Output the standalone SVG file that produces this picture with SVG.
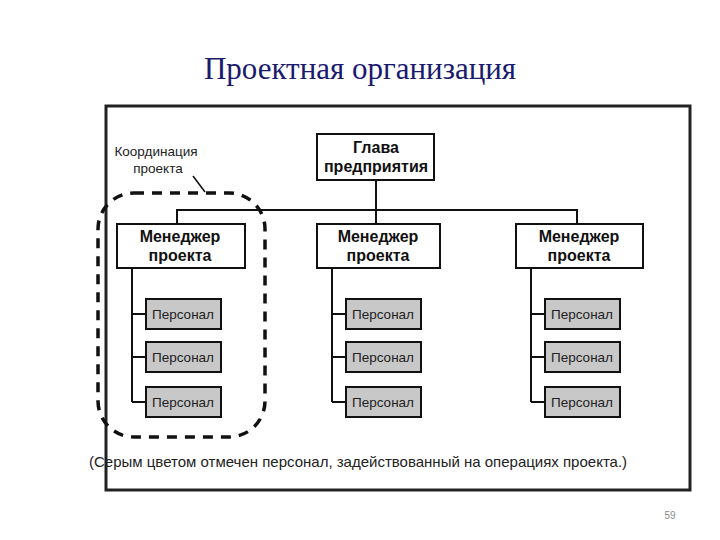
<svg xmlns="http://www.w3.org/2000/svg" width="720" height="540" viewBox="0 0 720 540">
<style>
.b{fill:#fff;stroke:#111;stroke-width:2}
.g{fill:#c8c8c8;stroke:#111;stroke-width:2}
.bt{font-family:"Liberation Sans",Arial,sans-serif;font-weight:bold;font-size:16px;text-anchor:middle;fill:#111}
.pt{font-family:"Liberation Sans",Arial,sans-serif;font-size:13.5px;text-anchor:middle;fill:#222}
.ln{stroke:#111;stroke-width:2;fill:none}
</style>
<rect width="720" height="540" fill="#fff"/>
<text x="360" y="79" font-family="Liberation Serif,Times New Roman,serif" font-size="31" text-anchor="middle" fill="#1a1a6e">Проектная организация</text>
<rect x="106" y="106" width="584" height="384" fill="#fff" stroke="#222" stroke-width="3"/>
<g id="connectors">
<path class="ln" d="M376 180V224M177 224V210H577V224"/>
<path class="ln" d="M132 268V402M132 314H146M132 357H146M132 402H146"/>
<path class="ln" d="M332 268V402M332 314H346M332 357H346M332 402H346"/>
<path class="ln" d="M531 268V402M531 314H545M531 357H545M531 402H545"/>
</g>
<g id="coord">
<rect x="98" y="193" width="167" height="244" rx="36" fill="none" stroke="#111" stroke-width="3.5" stroke-dasharray="10,8"/>
<path d="M193 176L205 192" stroke="#111" stroke-width="1.5"/>
<text x="156" y="156" class="pt" font-size="15">Координация</text>
<text x="158" y="173" class="pt" font-size="15">проекта</text>
</g>
<g id="head"><rect class="b" x="317" y="134" width="117" height="46"/><text class="bt" x="376" y="153">Глава</text><text class="bt" x="376" y="172">предприятия</text></g>
<g id="m1"><rect class="b" x="117" y="224" width="128" height="44"/><text class="bt" x="180" y="242">Менеджер</text><text class="bt" x="180" y="261">проекта</text></g>
<g id="m2"><rect class="b" x="317" y="224" width="123" height="44"/><text class="bt" x="378" y="242">Менеджер</text><text class="bt" x="378" y="261">проекта</text></g>
<g id="m3"><rect class="b" x="516" y="224" width="127" height="44"/><text class="bt" x="579" y="242">Менеджер</text><text class="bt" x="579" y="261">проекта</text></g>
<g id="p1a"><rect class="g" x="146" y="299" width="75" height="30"/><text class="pt" x="183" y="319">Персонал</text></g>
<g id="p1b"><rect class="g" x="146" y="342" width="75" height="30"/><text class="pt" x="183" y="362">Персонал</text></g>
<g id="p1c"><rect class="g" x="146" y="387" width="75" height="30"/><text class="pt" x="183" y="407">Персонал</text></g>
<g id="p2a"><rect class="g" x="346" y="299" width="75" height="30"/><text class="pt" x="383" y="319">Персонал</text></g>
<g id="p2b"><rect class="g" x="346" y="342" width="75" height="30"/><text class="pt" x="383" y="362">Персонал</text></g>
<g id="p2c"><rect class="g" x="346" y="387" width="75" height="30"/><text class="pt" x="383" y="407">Персонал</text></g>
<g id="p3a"><rect class="g" x="545" y="299" width="75" height="30"/><text class="pt" x="582" y="319">Персонал</text></g>
<g id="p3b"><rect class="g" x="545" y="342" width="75" height="30"/><text class="pt" x="582" y="362">Персонал</text></g>
<g id="p3c"><rect class="g" x="545" y="387" width="75" height="30"/><text class="pt" x="582" y="407">Персонал</text></g>
<text x="89" y="467" font-family="Liberation Sans,Arial,sans-serif" font-size="15" fill="#222">(Серым цветом отмечен персонал, задействованный на операциях проекта.)</text>
<text x="670" y="519" font-family="Liberation Sans,Arial,sans-serif" font-size="10" text-anchor="middle" fill="#888">59</text>
</svg>
